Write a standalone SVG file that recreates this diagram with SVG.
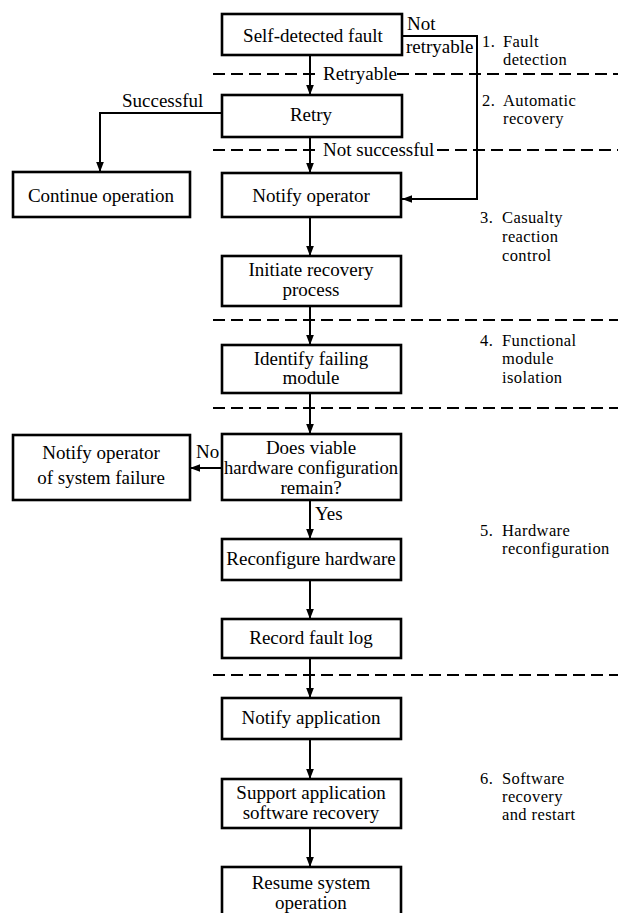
<svg xmlns="http://www.w3.org/2000/svg" width="618" height="913" viewBox="0 0 618 913" font-family="'Liberation Serif', 'DejaVu Serif', 'Times New Roman', serif">
<defs>
<marker id="ah" markerUnits="userSpaceOnUse" markerWidth="10" markerHeight="14" refX="13" refY="5" orient="auto" viewBox="0 0 13 10">
<path d="M0,0 L13,5 L0,10 Z" fill="#000"/>
</marker>
<style>
text{font-family:'Liberation Serif','DejaVu Serif','Times New Roman',serif;fill:#000}
.bt{font-size:19px;text-anchor:middle}
.ct{font-size:19px}
.lt{font-size:16.5px;letter-spacing:0.4px}
.box{fill:#fff;stroke:#000;stroke-width:2.6}
.con{fill:none;stroke:#000;stroke-width:2}
.dash{fill:none;stroke:#000;stroke-width:2;stroke-dasharray:12 6}
</style>
</defs>
<rect width="618" height="913" fill="#fff"/>

<g id="dividers">
<path class="dash" d="M213,74 H317 M397,74 H618"/>
<path class="dash" d="M213,150 H317 M437,150 H618"/>
<path class="dash" d="M213,320 H618"/>
<path class="dash" d="M213,408 H618"/>
<path class="dash" d="M213,675 H618"/>
</g>

<g id="connectors">
<path class="con" d="M310,55 V95" marker-end="url(#ah)"/>
<path class="con" d="M310,137 V173" marker-end="url(#ah)"/>
<path class="con" d="M222,113 H100 V172" marker-end="url(#ah)"/>
<path class="con" d="M402,36 H477 V199 H402" marker-end="url(#ah)"/>
<path class="con" d="M310,217 V256" marker-end="url(#ah)"/>
<path class="con" d="M310,306 V345" marker-end="url(#ah)"/>
<path class="con" d="M310,393 V434" marker-end="url(#ah)"/>
<path class="con" d="M222,468 H190" marker-end="url(#ah)"/>
<path class="con" d="M310,500 V539" marker-end="url(#ah)"/>
<path class="con" d="M310,580 V619" marker-end="url(#ah)"/>
<path class="con" d="M310,658 V698" marker-end="url(#ah)"/>
<path class="con" d="M310,739 V779" marker-end="url(#ah)"/>
<path class="con" d="M310,828 V867" marker-end="url(#ah)"/>
<text class="ct" x="323" y="80">Retryable</text>
<text class="ct" x="323" y="156">Not successful</text>
<text class="ct" x="122" y="107">Successful</text>
<text class="ct" x="407" y="30">Not</text>
<text class="ct" x="406" y="53">retryable</text>
<text class="ct" x="196" y="458">No</text>
<text class="ct" x="315" y="520">Yes</text>
</g>

<g id="n-self">
<rect class="box" x="222" y="14" width="180" height="41"/>
<text class="bt" x="313" y="42">Self-detected fault</text>
</g>
<g id="n-retry">
<rect class="box" x="222" y="95" width="180" height="42"/>
<text class="bt" x="311" y="121">Retry</text>
</g>
<g id="n-continue">
<rect class="box" x="13" y="172" width="177" height="45"/>
<text class="bt" x="101" y="202">Continue operation</text>
</g>
<g id="n-notify-op">
<rect class="box" x="222" y="173" width="179" height="44"/>
<text class="bt" x="311" y="202">Notify operator</text>
</g>
<g id="n-initiate">
<rect class="box" x="222" y="256" width="179" height="50"/>
<text class="bt" x="311" y="276">Initiate recovery</text>
<text class="bt" x="311" y="296">process</text>
</g>
<g id="n-identify">
<rect class="box" x="222" y="345" width="179" height="48"/>
<text class="bt" x="311" y="365">Identify failing</text>
<text class="bt" x="311" y="384">module</text>
</g>
<g id="n-decision">
<rect class="box" x="222" y="434" width="179" height="66"/>
<text class="bt" x="311" y="454">Does viable</text>
<text class="bt" x="311" y="474" textLength="174" lengthAdjust="spacingAndGlyphs">hardware configuration</text>
<text class="bt" x="311" y="494">remain?</text>
</g>
<g id="n-sysfail">
<rect class="box" x="13" y="435" width="177" height="65"/>
<text class="bt" x="101" y="459">Notify operator</text>
<text class="bt" x="101" y="484">of system failure</text>
</g>
<g id="n-reconfig">
<rect class="box" x="222" y="539" width="179" height="41"/>
<text class="bt" x="311" y="565">Reconfigure hardware</text>
</g>
<g id="n-record">
<rect class="box" x="222" y="619" width="179" height="39"/>
<text class="bt" x="311" y="644">Record fault log</text>
</g>
<g id="n-notify-app">
<rect class="box" x="222" y="698" width="179" height="41"/>
<text class="bt" x="311" y="724">Notify application</text>
</g>
<g id="n-support">
<rect class="box" x="222" y="779" width="179" height="49"/>
<text class="bt" x="311" y="799">Support application</text>
<text class="bt" x="311" y="819">software recovery</text>
</g>
<g id="n-resume">
<rect class="box" x="222" y="867" width="179" height="60"/>
<text class="bt" x="311" y="889">Resume system</text>
<text class="bt" x="311" y="909">operation</text>
</g>

<g id="phases">
<text class="lt" x="482" y="47">1.</text><text class="lt" x="503" y="47">Fault</text>
<text class="lt" x="503" y="65">detection</text>
<text class="lt" x="482" y="106">2.</text><text class="lt" x="503" y="106">Automatic</text>
<text class="lt" x="503" y="124">recovery</text>
<text class="lt" x="480" y="223">3.</text><text class="lt" x="502" y="223">Casualty</text>
<text class="lt" x="502" y="242">reaction</text>
<text class="lt" x="502" y="261">control</text>
<text class="lt" x="480" y="346">4.</text><text class="lt" x="502" y="346">Functional</text>
<text class="lt" x="502" y="364">module</text>
<text class="lt" x="502" y="383">isolation</text>
<text class="lt" x="480" y="536">5.</text><text class="lt" x="502" y="536">Hardware</text>
<text class="lt" x="502" y="554">reconfiguration</text>
<text class="lt" x="480" y="784">6.</text><text class="lt" x="502" y="784">Software</text>
<text class="lt" x="502" y="802">recovery</text>
<text class="lt" x="502" y="820">and restart</text>
</g>
</svg>
